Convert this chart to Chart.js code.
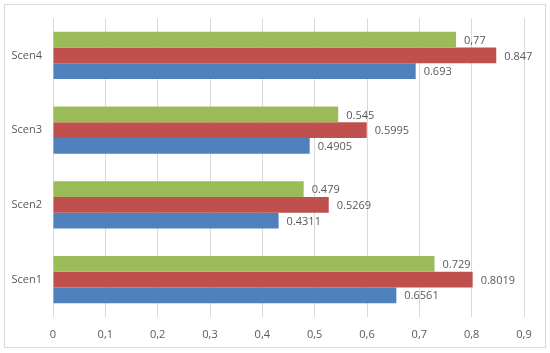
<!DOCTYPE html>
<html>
<head>
<meta charset="utf-8">
<script src="https://cdn.jsdelivr.net/npm/chart.js@4"></script>
<style>
  body { margin: 0; background: #fff; }
  #frame { position: absolute; left: 4px; top: 4px; width: 540px; height: 342px; border: 1px solid #d9d9d9; }
  #wrap { position: absolute; left: 0; top: 0; width: 550px; height: 353px; }
</style>
</head>
<body>
<div id="frame"></div>
<div id="wrap"><canvas id="myChart"></canvas></div>
<script>
// data
const scenarios = ['Scen1', 'Scen2', 'Scen3', 'Scen4'];
const serieAzul = [0.6561, 0.4311, 0.4905, 0.693];
const serieRoja = [0.8019, 0.5269, 0.5995, 0.847];
const serieVerde = [0.729, 0.479, 0.545, 0.77];
const textosAzul = ['0.6561', '0.4311', '0.4905', '0.693'];
const textosRoja = ['0.8019', '0.5269', '0.5995', '0.847'];
const textosVerde = ['0.729', '0.479', '0.545', '0,77'];
const ticksX = [0, 0.1, 0.2, 0.3, 0.4, 0.5, 0.6, 0.7, 0.8, 0.9];

const gris = '#595959';
const fuente = { family: "'Open Sans', sans-serif", size: 11 };

// etiquetas al final de cada barra
const etiquetas = {
  id: 'etiquetas',
  afterDatasetsDraw(chart) {
    const ctx = chart.ctx;
    ctx.save();
    ctx.font = "11px 'Open Sans', sans-serif";
    ctx.fillStyle = gris;
    ctx.textAlign = 'left';
    ctx.textBaseline = 'middle';
    chart.data.datasets.forEach((ds, i) => {
      chart.getDatasetMeta(i).data.forEach((bar, j) => {
        ctx.fillText(ds.textos[j], bar.x + 8, bar.y + 1);
      });
    });
    ctx.restore();
  }
};

// verde arriba, azul abajo dentro de cada grupo
new Chart(document.getElementById('myChart'), {
  type: 'bar',
  data: {
    labels: scenarios,
    datasets: [
      { data: serieVerde, textos: textosVerde, backgroundColor: '#9bbb59' },
      { data: serieRoja, textos: textosRoja, backgroundColor: '#c0504d' },
      { data: serieAzul, textos: textosAzul, backgroundColor: '#4f81bd' }
    ]
  },
  options: {
    indexAxis: 'y',
    responsive: true,
    maintainAspectRatio: false,
    animation: false,
    categoryPercentage: 0.63,
    barPercentage: 1,
    layout: { padding: { left: 0, right: 26, top: 18, bottom: 0 } },
    plugins: { legend: { display: false }, tooltip: { enabled: false } },
    scales: {
      x: {
        min: 0,
        max: 0.9,
        afterBuildTicks: scale => { scale.ticks = ticksX.map(v => ({ value: v })); },
        afterFit: scale => { scale.height = 36; },
        grid: { color: '#d9d9d9', drawTicks: false },
        border: { display: false },
        ticks: {
          color: gris,
          font: fuente,
          padding: 11,
          callback: v => String(Math.round(v * 10) / 10).replace('.', ',')
        }
      },
      y: {
        reverse: true,
        afterFit: scale => { scale.width = 53; },
        grid: { display: false, drawTicks: false },
        border: { display: false },
        ticks: { color: gris, font: fuente, padding: 11 }
      }
    }
  },
  plugins: [etiquetas]
});
</script>
</body>
</html>
